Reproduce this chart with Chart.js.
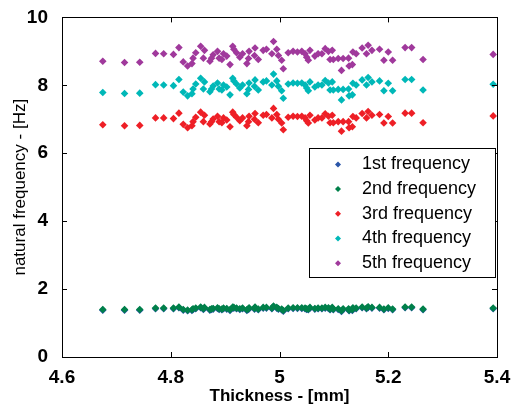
<!DOCTYPE html>
<html lang="en">
<head>
    <meta charset="UTF-8">
    <title>Natural frequency vs thickness</title>
    <script src="https://cdn.jsdelivr.net/npm/chart.js"></script>
    <style>
        body { margin: 0; background: #fff; }
        .wrap { position: relative; width: 512px; height: 407px; }
    </style>
</head>
<body>
    <div class="wrap">
        <canvas id="freqChart" width="512" height="407"></canvas>
    </div>

    <script>
        // thickness in mm
        const thickness = [
            4.675, 4.715, 4.743, 4.772, 4.787, 4.805, 4.815, 4.823, 4.831, 4.839,
            4.841, 4.846, 4.855, 4.860, 4.862, 4.872, 4.875, 4.878, 4.886, 4.889,
            4.894, 4.897, 4.903, 4.909, 4.914, 4.916, 4.921, 4.927, 4.932, 4.940,
            4.943, 4.944, 4.954, 4.955, 4.961, 4.970, 4.976, 4.986, 4.989, 4.995,
            4.998, 5.004, 5.007, 5.016, 5.025, 5.033, 5.041, 5.047, 5.050, 5.053,
            5.056, 5.065, 5.071, 5.078, 5.084, 5.090, 5.093, 5.097, 5.099, 5.108,
            5.114, 5.117, 5.127, 5.128, 5.134, 5.135, 5.141, 5.152, 5.160, 5.163,
            5.170, 5.184, 5.192, 5.200, 5.208, 5.231, 5.243, 5.264, 5.393
        ];

        const freq1 = [
            1.38, 1.38, 1.38, 1.42, 1.42, 1.42, 1.45, 1.38, 1.36, 1.37,
            1.40, 1.42, 1.45, 1.40, 1.44, 1.38, 1.40, 1.41, 1.43, 1.40,
            1.39, 1.42, 1.41, 1.37, 1.45, 1.44, 1.42, 1.40, 1.42, 1.37,
            1.40, 1.43, 1.41, 1.45, 1.39, 1.44, 1.44, 1.42, 1.48, 1.44,
            1.41, 1.39, 1.35, 1.42, 1.43, 1.43, 1.43, 1.42, 1.40, 1.39,
            1.44, 1.41, 1.42, 1.42, 1.44, 1.43, 1.39, 1.44, 1.39, 1.40,
            1.34, 1.40, 1.40, 1.36, 1.37, 1.43, 1.42, 1.45, 1.42, 1.46,
            1.44, 1.44, 1.39, 1.43, 1.39, 1.45, 1.45, 1.39, 1.42
        ];

        const freq2 = [
            1.40, 1.40, 1.40, 1.44, 1.44, 1.44, 1.47, 1.40, 1.38, 1.39,
            1.42, 1.44, 1.47, 1.42, 1.46, 1.40, 1.42, 1.43, 1.45, 1.42,
            1.41, 1.44, 1.43, 1.39, 1.47, 1.46, 1.44, 1.42, 1.44, 1.39,
            1.42, 1.45, 1.43, 1.47, 1.41, 1.46, 1.46, 1.44, 1.50, 1.46,
            1.43, 1.41, 1.37, 1.44, 1.45, 1.45, 1.45, 1.44, 1.42, 1.41,
            1.46, 1.43, 1.44, 1.44, 1.46, 1.45, 1.41, 1.46, 1.41, 1.42,
            1.36, 1.42, 1.42, 1.38, 1.39, 1.45, 1.44, 1.47, 1.44, 1.48,
            1.46, 1.46, 1.41, 1.45, 1.41, 1.47, 1.47, 1.41, 1.44
        ];

        const freq3 = [
            6.84, 6.81, 6.82, 7.04, 7.04, 7.02, 7.18, 6.85, 6.75, 6.81,
            6.93, 7.06, 7.21, 6.93, 7.12, 6.86, 6.93, 7.01, 7.09, 6.93,
            6.90, 7.04, 6.98, 6.78, 7.21, 7.14, 7.06, 6.96, 7.04, 6.81,
            6.93, 7.09, 7.00, 7.17, 6.90, 7.12, 7.14, 7.04, 7.32, 7.14,
            7.00, 6.89, 6.69, 7.06, 7.09, 7.08, 7.09, 7.04, 6.96, 6.89,
            7.12, 6.98, 7.04, 7.04, 7.16, 7.09, 6.90, 7.12, 6.90, 6.93,
            6.65, 6.93, 6.93, 6.75, 6.78, 7.08, 7.04, 7.17, 7.04, 7.23,
            7.12, 7.14, 6.89, 7.08, 6.89, 7.18, 7.18, 6.90, 7.10
        ];

        const freq4 = [
            7.79, 7.76, 7.77, 8.02, 8.01, 7.99, 8.17, 7.80, 7.69, 7.75,
            7.89, 8.04, 8.21, 7.89, 8.10, 7.81, 7.89, 7.98, 8.07, 7.89,
            7.86, 8.01, 7.95, 7.72, 8.21, 8.13, 8.04, 7.92, 8.01, 7.75,
            7.88, 8.07, 7.97, 8.16, 7.86, 8.10, 8.13, 8.01, 8.33, 8.13,
            7.97, 7.84, 7.62, 8.04, 8.07, 8.06, 8.07, 8.01, 7.92, 7.84,
            8.10, 7.95, 8.01, 8.01, 8.14, 8.07, 7.86, 8.10, 7.86, 7.88,
            7.57, 7.88, 7.89, 7.69, 7.72, 8.06, 8.01, 8.16, 8.01, 8.23,
            8.10, 8.13, 7.84, 8.06, 7.84, 8.17, 8.17, 7.86, 8.03
        ];

        const freq5 = [
            8.71, 8.67, 8.68, 8.94, 8.93, 8.91, 9.11, 8.69, 8.57, 8.64,
            8.80, 8.96, 9.15, 8.80, 9.03, 8.71, 8.80, 8.90, 9.00, 8.80,
            8.76, 8.93, 8.86, 8.61, 9.15, 9.06, 8.96, 8.83, 8.93, 8.64,
            8.79, 9.00, 8.88, 9.10, 8.76, 9.03, 9.06, 8.93, 9.29, 9.06,
            8.88, 8.74, 8.49, 8.96, 9.00, 8.98, 9.00, 8.93, 8.83, 8.74,
            9.03, 8.86, 8.93, 8.93, 9.08, 9.00, 8.76, 9.03, 8.76, 8.79,
            8.44, 8.79, 8.80, 8.57, 8.61, 8.98, 8.93, 9.10, 8.93, 9.18,
            9.03, 9.06, 8.74, 8.98, 8.74, 9.11, 9.11, 8.76, 8.91
        ];

        const seriesNames = ['1st frequency', '2nd frequency', '3rd frequency', '4th frequency', '5th frequency'];
        const seriesValues = [freq1, freq2, freq3, freq4, freq5];
        const seriesColors = ['#2a55a8', '#00804a', '#ee1f26', '#00b8b8', '#a0399c'];

        const xTicks = [4.6, 4.8, 5, 5.2, 5.4];
        const yTicks = [0, 2, 4, 6, 8, 10];

        const datasets = seriesNames.map((name, i) => ({
            label: name,
            data: thickness.map((t, j) => ({ x: t, y: seriesValues[i][j] })),
            pointStyle: 'rectRot',
            pointRadius: 3.8,
            pointBorderWidth: 0,
            backgroundColor: seriesColors[i],
            borderColor: seriesColors[i],
            order: 5 - i
        }));

        // box round the plot, inward ticks on all four sides
        const boxTicks = {
            id: 'boxTicks',
            afterDatasetsDraw(chart) {
                const { ctx, chartArea: a, scales } = chart;
                ctx.save();
                ctx.strokeStyle = '#000';
                ctx.lineWidth = 1;
                ctx.strokeRect(Math.round(a.left) + 0.5, Math.round(a.top) + 0.5,
                    Math.round(a.right - a.left), Math.round(a.bottom - a.top));
                ctx.beginPath();
                xTicks.forEach(v => {
                    const px = Math.round(scales.x.getPixelForValue(v)) + 0.5;
                    ctx.moveTo(px, a.bottom); ctx.lineTo(px, a.bottom - 5);
                    ctx.moveTo(px, a.top); ctx.lineTo(px, a.top + 5);
                });
                yTicks.forEach(v => {
                    const py = Math.round(scales.y.getPixelForValue(v)) + 0.5;
                    ctx.moveTo(a.left, py); ctx.lineTo(a.left + 5, py);
                    ctx.moveTo(a.right, py); ctx.lineTo(a.right - 5, py);
                });
                ctx.stroke();
                ctx.restore();
            }
        };

        // legend box inside the plot, right side
        const boxLegend = {
            id: 'boxLegend',
            afterDraw(chart) {
                const { ctx, chartArea: a } = chart;
                const left = a.right - 188, top = a.top + 131, w = 186, h = 129;
                ctx.save();
                ctx.fillStyle = '#fff';
                ctx.fillRect(left, top, w, h);
                ctx.strokeStyle = '#000';
                ctx.lineWidth = 1;
                ctx.strokeRect(Math.round(left) + 0.5, Math.round(top) + 0.5, w, h);
                ctx.font = '18px "Liberation Sans", Arial, sans-serif';
                ctx.textBaseline = 'middle';
                chart.data.datasets.forEach((ds, i) => {
                    const cy = top + 16 + i * 24.7;
                    const cx = left + 29;
                    ctx.fillStyle = ds.backgroundColor;
                    ctx.beginPath();
                    ctx.moveTo(cx - 3, cy); ctx.lineTo(cx, cy - 3);
                    ctx.lineTo(cx + 3, cy); ctx.lineTo(cx, cy + 3);
                    ctx.closePath();
                    ctx.fill();
                    ctx.fillStyle = '#000';
                    ctx.fillText(ds.label, left + 53, cy);
                });
                ctx.restore();
            }
        };

        const tickFont = { family: '"Liberation Sans", Arial, sans-serif', size: 19, weight: 'bold' };

        new Chart(document.getElementById('freqChart'), {
            type: 'scatter',
            data: { datasets },
            plugins: [boxTicks, boxLegend],
            options: {
                responsive: false,
                animation: false,
                layout: { padding: { top: 17, right: 15, left: 0, bottom: 0 } },
                plugins: {
                    legend: { display: false },
                    tooltip: { enabled: false }
                },
                scales: {
                    x: {
                        type: 'linear',
                        min: 4.6,
                        max: 5.4,
                        afterBuildTicks: s => { s.ticks = xTicks.map(v => ({ value: v })); },
                        grid: { display: false },
                        border: { display: false },
                        ticks: {
                            color: '#000',
                            font: tickFont,
                            padding: 1,
                            maxRotation: 0,
                            callback: v => String(+v.toFixed(1))
                        },
                        title: {
                            display: true,
                            text: 'Thickness - [mm]',
                            color: '#000',
                            font: { family: '"Liberation Sans", Arial, sans-serif', size: 17, weight: 'bold' },
                            padding: { top: 0, bottom: 0 }
                        },
                        afterFit: s => { s.height = 50; }
                    },
                    y: {
                        type: 'linear',
                        min: 0,
                        max: 10,
                        afterBuildTicks: s => { s.ticks = yTicks.map(v => ({ value: v })); },
                        grid: { display: false },
                        border: { display: false },
                        ticks: {
                            color: '#000',
                            font: tickFont,
                            padding: 6
                        },
                        title: {
                            display: true,
                            text: 'natural frequency - [Hz]',
                            color: '#000',
                            font: { family: '"Liberation Sans", Arial, sans-serif', size: 17 },
                            padding: { top: 10, bottom: 0 }
                        },
                        afterFit: s => { s.width = 62; }
                    }
                }
            }
        });
    </script>
</body>
</html>
